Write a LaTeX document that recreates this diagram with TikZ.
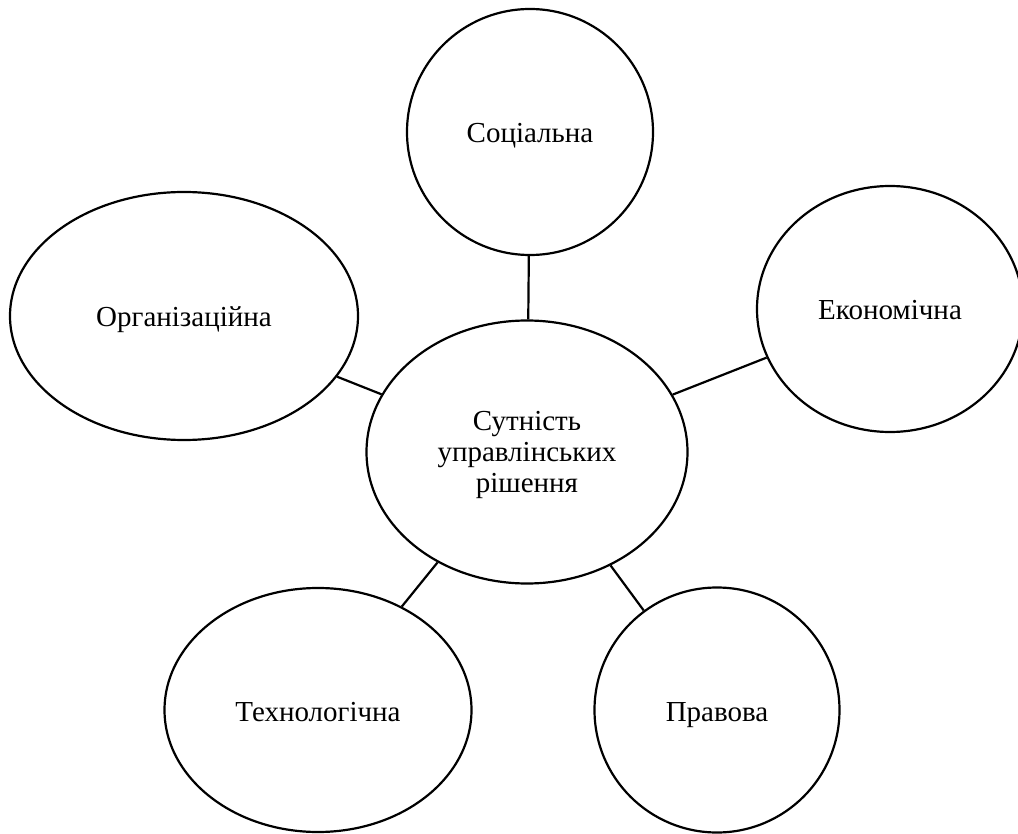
\documentclass[tikz,border=0pt]{standalone}
\usepackage{fontspec}
\setmainfont{Liberation Serif}
\usetikzlibrary{shapes.geometric}
\begin{document}
\begin{tikzpicture}[x=1pt,y=-1pt,
  bub/.style={ellipse, draw, line width=2.2pt, inner sep=0pt, align=center,
    font=\fontsize{29}{31}\selectfont},
  one/.style={text height=24pt, text depth=2pt},
  link/.style={line width=2.2pt}]
\useasboundingbox (0,0) rectangle (1018,834);
\node[bub, one, minimum width=246pt, minimum height=246pt] (soc) at (530,132) {Соціальна};
\node[bub, one, minimum width=348pt, minimum height=248pt] (org) at (184,316) {Організаційна};
\node[bub, one, minimum width=266pt, minimum height=246pt] (eco) at (890,309) {Економічна};
\node[bub, minimum width=321pt, minimum height=263pt] (cen) at (527,452) {\rule{0pt}{26pt}Сутність\\управлінських\\рішення};
\node[bub, one, minimum width=307pt, minimum height=244pt] (tech) at (318,710) {Технологічна};
\node[bub, one, minimum width=245pt, minimum height=245pt] (prav) at (717,710) {Правова};
\draw[link] (soc) -- (cen);
\draw[link] (org) -- (cen);
\draw[link] (eco) -- (cen);
\draw[link] (tech) -- (cen);
\draw[link] (prav) -- (cen);
\end{tikzpicture}
\end{document}
